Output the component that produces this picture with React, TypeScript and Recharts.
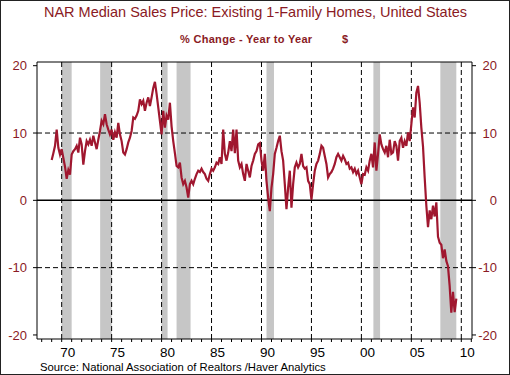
import { Line, LineChart, ReferenceArea, ReferenceLine, XAxis, YAxis } from "recharts";

// bimonthly readings of the year-to-year % change, starting Jan 1969
const START_YEAR = 1969;
const STEPS_PER_YEAR = 6;

const pct1969to1978 = [
  6.0, 7.0, 8.1, 10.5, 7.8, 6.8,
  7.6, 6.3, 5.0, 3.2, 4.5, 3.8,
  6.8, 7.3, 7.6, 8.1, 7.1, 9.3,
  8.3, 5.3, 7.3, 8.8, 8.3, 9.0,
  8.1, 9.6, 8.6, 7.6, 9.0, 10.3,
  11.8, 11.3, 12.8, 11.3, 10.5, 9.8,
  10.5, 9.0, 10.1, 9.3, 11.5, 9.8,
  8.8, 7.1, 6.8, 7.6, 8.6, 9.3,
  10.3, 12.3, 12.1, 12.6, 13.3, 15.0,
  14.3, 14.8, 13.3, 14.5, 15.3, 14.0,
];

const pct1979to1988 = [
  15.3, 16.7, 17.6, 15.8, 13.8, 11.8,
  9.8, 13.3, 10.8, 12.6, 12.0, 14.5,
  11.0, 8.8, 7.0, 5.1, 4.9, 5.6,
  3.4, 2.4, 2.9, 1.9, 0.4, 2.4,
  2.9, 2.4, 3.2, 3.9, 4.4, 4.2,
  4.7, 4.2, 3.9, 3.2, 2.9, 3.9,
  4.7, 4.4, 4.9, 5.6, 5.4, 6.4,
  5.4, 10.5, 6.9, 5.9, 7.1, 8.8,
  7.3, 10.5, 7.0, 10.5, 5.9, 4.9,
  5.4, 3.9, 2.9, 5.4, 4.4, 3.4,
];

const pct1989to1998 = [
  5.1, 5.9, 6.9, 7.3, 8.3, 8.5,
  5.9, 4.4, 6.9, 2.9, 0.4, -1.6,
  1.9, 3.9, 6.9, 7.8, 8.8, 9.6,
  7.3, 5.9, 2.4, -1.3, 1.9, 4.4,
  -1.1, 2.4, 4.9, 5.6, 4.9, 5.4,
  6.9, 5.1, 4.7, 4.9, 2.9, 2.4,
  0.1, 2.4, 4.4, 5.4, 5.9, 6.9,
  8.1, 7.8, 6.6, 5.4, 3.4, 3.9,
  4.2, 4.7, 5.4, 6.4, 6.9, 6.4,
  5.9, 6.6, 6.1, 5.4, 5.6, 4.7,
];

const pct1999to2009 = [
  4.9, 4.2, 4.7, 3.9, 4.4, 3.4,
  2.4, 3.9, 3.8, 4.9, 4.4, 5.9,
  6.9, 4.9, 8.6, 4.4, 6.9, 9.8,
  8.3, 7.6, 7.1, 8.1, 6.4, 9.0,
  6.9, 7.1, 8.8, 8.1, 5.9, 8.8,
  9.3, 7.8, 8.8, 8.1, 10.1, 8.8,
  11.3, 13.8, 12.3, 16.0, 17.0, 14.5,
  10.8, 8.0, 3.4, -0.8, -4.0, -1.5,
  -2.8, -0.8, -2.4, -0.3, -5.4, -6.3,
  -6.6, -8.6, -7.3, -9.0, -9.8, -12.7,
  -16.7, -13.6, -16.6, -14.6,
];

const recessions = [
  [1970.0, 1971.0],
  [1973.85, 1975.0],
  [1980.0, 1980.6],
  [1981.5, 1982.9],
  [1990.5, 1991.25],
  [2001.2, 2001.87],
  [2007.9, 2009.5],
];

const fiveYearLines = [1970, 1975, 1980, 1985, 1990, 1995, 2000, 2005, 2010];
const yearTicks = [
  1968, 1969, 1970, 1971, 1972, 1973, 1974, 1975, 1976, 1977, 1978, 1979,
  1980, 1981, 1982, 1983, 1984, 1985, 1986, 1987, 1988, 1989, 1990, 1991,
  1992, 1993, 1994, 1995, 1996, 1997, 1998, 1999, 2000, 2001, 2002, 2003,
  2004, 2005, 2006, 2007, 2008, 2009, 2010, 2011,
];
const yTicks = [-20, -10, 0, 10, 20];

const RED = "#8a1a24";
const LINE_RED = "#a0172f";
const FONT = "'Liberation Sans', Arial, sans-serif";

const data = [...pct1969to1978, ...pct1979to1988, ...pct1989to1998, ...pct1999to2009].map(
  (pct, i) => ({ t: START_YEAR + i / STEPS_PER_YEAR, pct })
);

function YearTick(props: any) {
  const { x, y, payload } = props;
  const major = payload.value % 5 === 0;
  return (
    <g>
      <line x1={x} x2={x} y1={y} y2={y + 3} stroke="#000" />
      {major && (
        <text x={x + 6} y={y + 18} textAnchor="middle" fontSize={13.5} fill="#000" fontFamily={FONT}>
          {String(payload.value).slice(2)}
        </text>
      )}
    </g>
  );
}

function RightTick(props: any) {
  const { x, y, payload } = props;
  return (
    <text x={x + 19} y={y} dy="0.355em" textAnchor="end" fontSize={13} fill={RED} fontFamily={FONT}>
      {payload.value}
    </text>
  );
}

export default function App() {
  return (
    <div style={{ position: "fixed", left: 0, top: 0, width: 510, height: 375, background: "#fff" }}>
      <LineChart width={510} height={375} data={data} margin={{ top: 62, right: 0, bottom: 16, left: 0 }}>
        <XAxis
          dataKey="t"
          type="number"
          domain={[1967.53, 2011.07]}
          allowDataOverflow
          ticks={yearTicks}
          interval={0}
          tickSize={0}
          tickMargin={0}
          tickLine={false}
          tick={<YearTick />}
          axisLine={{ stroke: "#000" }}
          height={20}
        />
        <YAxis
          yAxisId="l"
          domain={[-20.6, 20.55]}
          allowDataOverflow
          ticks={yTicks}
          width={37}
          tickSize={4}
          tickMargin={6}
          axisLine={{ stroke: "#000" }}
          tickLine={{ stroke: "#000" }}
          tick={{ fill: RED, fontSize: 13, fontFamily: FONT }}
        />
        <YAxis
          yAxisId="r"
          orientation="right"
          domain={[-20.6, 20.55]}
          allowDataOverflow
          ticks={yTicks}
          width={38}
          tickSize={4}
          tickMargin={2}
          axisLine={{ stroke: "#000" }}
          tickLine={{ stroke: "#000" }}
          tick={<RightTick />}
        />
        {recessions.map(([a, b]) => (
          <ReferenceArea key={a} yAxisId="l" x1={a} x2={b} fill="#c6c6c6" fillOpacity={1} stroke="none" />
        ))}
        {fiveYearLines.map((yr) => (
          <ReferenceLine key={yr} yAxisId="l" x={yr} stroke="#000" strokeDasharray="5 3" />
        ))}
        <ReferenceLine yAxisId="l" y={10} stroke="#000" strokeDasharray="5 3" />
        <ReferenceLine yAxisId="l" y={-10} stroke="#000" strokeDasharray="5 3" />
        <ReferenceLine yAxisId="l" y={0} stroke="#000" strokeWidth={1.5} />
        <ReferenceLine yAxisId="l" y={20.55} stroke="#000" />
        <Line
          yAxisId="l"
          dataKey="pct"
          type="linear"
          stroke={LINE_RED}
          strokeWidth={2.2}
          dot={false}
          isAnimationActive={false}
        />
      </LineChart>
      <svg width={510} height={375} style={{ position: "absolute", left: 0, top: 0, pointerEvents: "none" }}>
        <rect x={0.5} y={0.5} width={509} height={374} fill="none" stroke="#222" />
        <text x={255.5} y={17} textAnchor="middle" fontSize={14.5} fill={RED} fontFamily={FONT}>
          NAR Median Sales Price: Existing 1-Family Homes, United States
        </text>
        <text x={180} y={43} fontSize={11} fontWeight="bold" letterSpacing={0.3} fill={RED} fontFamily={FONT}>
          % Change - Year to Year
        </text>
        <text x={342} y={43} fontSize={11} fontWeight="bold" fill={RED} fontFamily={FONT}>
          $
        </text>
        <text x={40} y={370.5} fontSize={11.3} fill="#000" fontFamily={FONT}>
          Source:  National Association of Realtors /Haver Analytics
        </text>
      </svg>
    </div>
  );
}
